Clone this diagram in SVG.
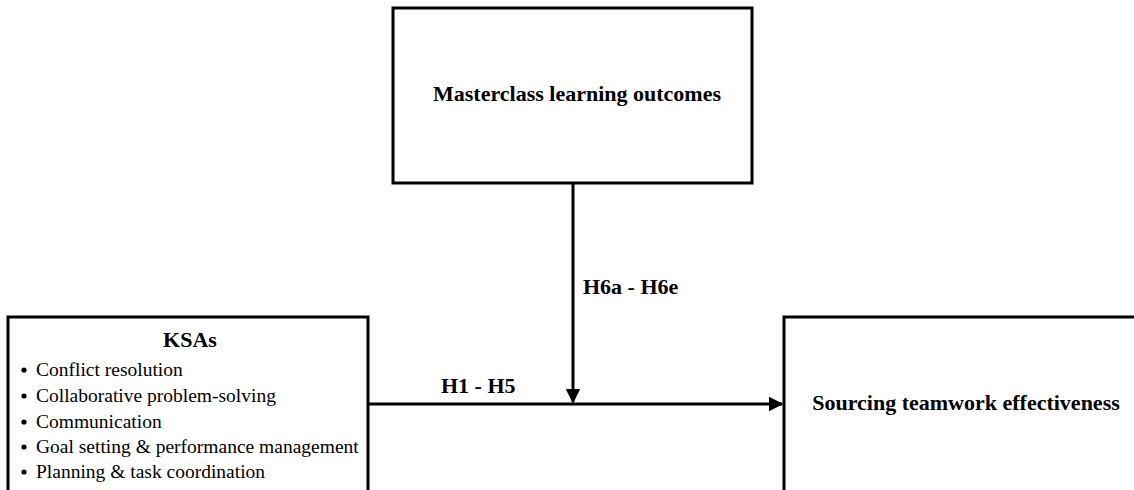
<svg xmlns="http://www.w3.org/2000/svg" width="1134" height="490" viewBox="0 0 1134 490">
<style>
.box{fill:#fff;stroke:#000;stroke-width:3}
.t{font-family:"Liberation Serif","Times New Roman",serif;fill:#000}
.b{font-weight:bold;font-size:22px}
.r{font-size:19.5px}
.c{stroke:#000;stroke-width:3;fill:none}
</style>
<defs>
<marker id="ah" markerWidth="5" markerHeight="5" refX="4.5" refY="2.5" orient="auto" markerUnits="strokeWidth">
<path d="M0,0 L5,2.5 L0,5 Z" fill="#000"/>
</marker>
</defs>
<rect width="1134" height="490" fill="#fff"/>
<g id="masterclass">
<rect class="box" x="393" y="8" width="359" height="175"/>
<text class="t b" x="577" y="101" text-anchor="middle">Masterclass learning outcomes</text>
</g>
<g id="ksas">
<rect class="box" x="8" y="317" width="360" height="190"/>
<text class="t b" x="190" y="347" text-anchor="middle">KSAs</text>
<g class="t r">
<circle cx="24" cy="370" r="2.6"/><text x="36" y="376">Conflict resolution</text>
<circle cx="24" cy="396" r="2.6"/><text x="36" y="402">Collaborative problem-solving</text>
<circle cx="24" cy="422" r="2.6"/><text x="36" y="428">Communication</text>
<circle cx="24" cy="447" r="2.6"/><text x="36" y="453">Goal setting &amp; performance management</text>
<circle cx="24" cy="472" r="2.6"/><text x="36" y="478">Planning &amp; task coordination</text>
</g>
</g>
<g id="sourcing">
<rect class="box" x="784" y="317" width="360" height="190"/>
<text class="t b" x="966" y="410" text-anchor="middle">Sourcing teamwork effectiveness</text>
</g>
<g id="connectors">
<line class="c" x1="368" y1="404" x2="782" y2="404" marker-end="url(#ah)"/>
<line class="c" x1="573" y1="183" x2="573" y2="402" marker-end="url(#ah)"/>
<text class="t b" x="441" y="393">H1 - H5</text>
<text class="t b" x="583" y="294">H6a - H6e</text>
</g>
</svg>
